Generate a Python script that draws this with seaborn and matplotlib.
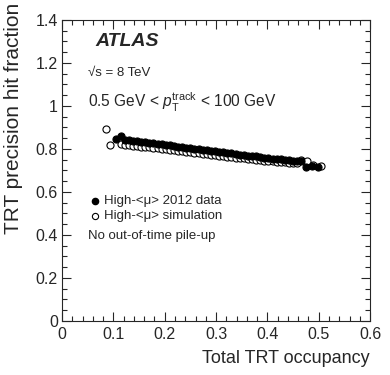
import matplotlib
matplotlib.use('Agg')
import matplotlib.pyplot as plt
import matplotlib.ticker as ticker
import seaborn as sns
import pandas as pd

# valores (ocupacao total do TRT vs fracao de hits de precisao)
data_x = [0.105, 0.114, 0.122, 0.130, 0.138, 0.146, 0.154, 0.162, 0.170, 0.178,
          0.186, 0.194, 0.202, 0.210, 0.218, 0.226, 0.234, 0.242, 0.250, 0.258,
          0.266, 0.274, 0.282, 0.290, 0.298, 0.306, 0.314, 0.322, 0.330, 0.338,
          0.346, 0.354, 0.362, 0.370, 0.378, 0.386, 0.394, 0.402, 0.410, 0.418,
          0.426, 0.434, 0.442, 0.450, 0.458, 0.466, 0.476, 0.486, 0.498]
data_y = [0.848, 0.860, 0.842, 0.840, 0.838, 0.836, 0.833, 0.831, 0.829, 0.826,
          0.824, 0.821, 0.819, 0.816, 0.814, 0.811, 0.809, 0.806, 0.804, 0.801,
          0.799, 0.796, 0.794, 0.791, 0.789, 0.786, 0.784, 0.781, 0.779, 0.777,
          0.774, 0.772, 0.769, 0.767, 0.765, 0.762, 0.760, 0.758, 0.755, 0.753,
          0.751, 0.749, 0.747, 0.745, 0.744, 0.743, 0.716, 0.722, 0.714]

sim_x = [0.085, 0.094, 0.114, 0.122, 0.130, 0.138, 0.146, 0.154, 0.162, 0.170,
         0.178, 0.186, 0.194, 0.202, 0.210, 0.218, 0.226, 0.234, 0.242, 0.250,
         0.258, 0.266, 0.274, 0.282, 0.290, 0.298, 0.306, 0.314, 0.322, 0.330,
         0.338, 0.346, 0.354, 0.362, 0.370, 0.378, 0.386, 0.394, 0.402, 0.410,
         0.418, 0.426, 0.434, 0.442, 0.450, 0.458, 0.466, 0.477, 0.489, 0.505]
sim_y = [0.892, 0.817, 0.824, 0.818, 0.817, 0.815, 0.813, 0.811, 0.809, 0.807,
         0.805, 0.803, 0.800, 0.798, 0.796, 0.794, 0.791, 0.789, 0.787, 0.785,
         0.782, 0.780, 0.778, 0.776, 0.773, 0.771, 0.769, 0.767, 0.764, 0.762,
         0.760, 0.758, 0.756, 0.754, 0.752, 0.750, 0.748, 0.746, 0.744, 0.742,
         0.740, 0.739, 0.737, 0.736, 0.735, 0.734, 0.748, 0.742, 0.726, 0.722]

df_data = pd.DataFrame({'occ': data_x, 'frac': data_y})
df_sim = pd.DataFrame({'occ': sim_x, 'frac': sim_y})

sns.set_style('ticks')
plt.rcParams['font.family'] = ['Liberation Sans', 'DejaVu Sans']
plt.rcParams['mathtext.fontset'] = 'custom'
plt.rcParams['mathtext.rm'] = 'Liberation Sans'
plt.rcParams['mathtext.it'] = 'Liberation Sans:italic'
plt.rcParams['mathtext.bf'] = 'Liberation Sans:bold'

fig = plt.figure(figsize=(3.9, 3.75), dpi=100)
ax = fig.add_axes([0.159, 0.144, 0.790, 0.803])

# simulacao primeiro (circulos abertos), dados por cima
sns.scatterplot(data=df_sim, x='occ', y='frac', ax=ax, marker='o', s=26,
                facecolor='white', edgecolor='black', linewidth=0.8, zorder=3)
sns.scatterplot(data=df_data, x='occ', y='frac', ax=ax, marker='o', s=26,
                color='black', edgecolor='black', linewidth=0.8, zorder=4)

ax.set_xlim(0, 0.6)
ax.set_ylim(0, 1.4)
ax.xaxis.set_major_locator(ticker.MultipleLocator(0.1))
ax.xaxis.set_minor_locator(ticker.MultipleLocator(0.02))
ax.yaxis.set_major_locator(ticker.MultipleLocator(0.2))
ax.yaxis.set_minor_locator(ticker.MultipleLocator(0.05))
ax.xaxis.set_major_formatter(ticker.FormatStrFormatter('%g'))
ax.yaxis.set_major_formatter(ticker.FuncFormatter(lambda v, p: '%g' % round(v, 2)))
ax.tick_params(which='both', direction='in', top=True, right=True, width=0.8)
ax.tick_params(which='major', length=6.5, labelsize=11.5)
ax.tick_params(axis='x', which='major', pad=4.5)
ax.tick_params(axis='y', which='major', pad=3)
ax.tick_params(which='minor', length=3.3)
for s in ax.spines.values():
    s.set_linewidth(0.8)

ax.set_xlabel('Total TRT occupancy', fontsize=13, loc='right')
ax.set_ylabel('TRT precision hit fraction', fontsize=15, loc='top')
ax.xaxis.set_label_coords(1.0, -0.095)
ax.yaxis.set_label_coords(-0.125, 1.057)

ax.text(0.107, 0.927, 'ATLAS', transform=ax.transAxes, fontsize=14,
        fontweight='bold', fontstyle='italic', va='center')
ax.text(0.085, 0.825, '\u221as = 8 TeV', transform=ax.transAxes, fontsize=9.5, va='center')
ax.text(0.085, 0.725, r'0.5 GeV < $p_{\mathrm{T}}^{\mathrm{track}}$ < 100 GeV',
        transform=ax.transAxes, fontsize=11.2, va='center')

# legenda montada a mao no estilo ROOT
ax.scatter([0.107], [0.398], transform=ax.transAxes, s=20, color='black', clip_on=False)
ax.scatter([0.107], [0.350], transform=ax.transAxes, s=20, facecolor='white',
           edgecolor='black', linewidth=0.8, clip_on=False)
ax.text(0.135, 0.398, 'High-<\u03bc> 2012 data', transform=ax.transAxes, fontsize=9.5, va='center')
ax.text(0.135, 0.350, 'High-<\u03bc> simulation', transform=ax.transAxes, fontsize=9.5, va='center')
ax.text(0.085, 0.283, 'No out-of-time pile-up', transform=ax.transAxes, fontsize=9.5, va='center')

plt.savefig('out.png', dpi=100)
